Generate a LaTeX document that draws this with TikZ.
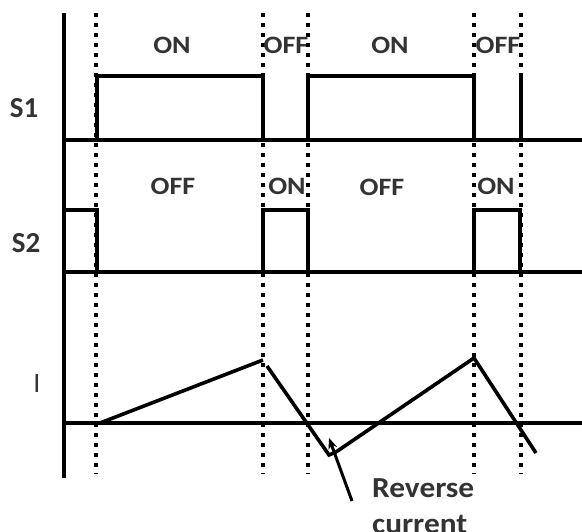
\documentclass[tikz,border=0pt]{standalone}
\usepackage{graphicx}
\usepackage{fontspec}
\setmainfont{Carlito}
\usetikzlibrary{arrows.meta}
% slightly widened lettering
\newcommand\widetext[2][1.12]{\scalebox{#1}[1]{#2}}
\begin{document}
\begin{tikzpicture}[x=1pt,y=-1pt,
  wave/.style={line width=3.6pt, line join=miter, line cap=butt},
  axis/.style={line width=3.2pt},
  guide/.style={line width=3.6pt, dash pattern=on 3.6pt off 6.4pt},
  lbl/.style={text=black!80, inner sep=0pt, font=\fontsize{25}{29}\selectfont\bfseries},
  sig/.style={text=black!80, inner sep=0pt, font=\fontsize{29}{33}\selectfont\bfseries},
  note/.style={text=black!80, inner sep=0pt, anchor=base west, font=\fontsize{29}{34}\selectfont\bfseries},
]
\useasboundingbox (0,0) rectangle (582,532);

% switching instants
\foreach \t in {96,263,308,474,521}
  \draw[guide] (\t,13) -- (\t,474);

% vertical axis and the three baselines
\draw[axis] (64,13) -- (64,478);
\draw[wave] (64,140) -- (582,140);
\draw[wave] (64,272) -- (582,272);
\draw[axis] (64,423) -- (582,423);

% S1 gate signal
\draw[wave] (97,140) -- (97,76) -- (263,76) -- (263,140);
\draw[wave] (308,140) -- (308,76) -- (474,76) -- (474,140);
\draw[wave] (521,140) -- (521,74);

% S2 gate signal
\draw[wave] (64,210) -- (97,210) -- (97,272);
\draw[wave] (263,272) -- (263,210) -- (308,210) -- (308,272);
\draw[wave] (474,272) -- (474,210) -- (520,210) -- (520,272);

% inductor current
\draw[wave] (100,423) -- (263,360);
\draw[wave] (267,366) -- (329,455) -- (336,452) -- (474,358) -- (536,453);

% labels
\node[lbl] (on1)  at (172,45) {\widetext{ON}};
\node[lbl] (off1) at (286,45) {\widetext{OFF}};
\node[lbl] (on2)  at (390,45) {\widetext{ON}};
\node[lbl] (off2) at (498,45) {\widetext{OFF}};
\node[lbl] (off3) at (173,186) {\widetext{OFF}};
\node[lbl] (on3)  at (287,186) {\widetext{ON}};
\node[lbl] (off4) at (382,187) {\widetext{OFF}};
\node[lbl] (on4)  at (496,186) {\widetext{ON}};

\node[sig] (s1) at (24,108) {S1};
\node[sig] (s2) at (26,243) {S2};
\node[text=black!80, inner sep=0pt, font=\fontsize{28}{30}\selectfont] (i) at (37,384) {I};

\node[note] (rev)  at (372,497) {\widetext[1.08]{Reverse}};
\node[note] (cur)  at (372,533) {\widetext[1.08]{current}};

\coordinate (tail) at (352,501);
\coordinate (tip)  at (329,438);
\draw[line width=3pt, -{Stealth[length=11pt,width=9pt]}] (tail) -- (tip);
\end{tikzpicture}
\end{document}
